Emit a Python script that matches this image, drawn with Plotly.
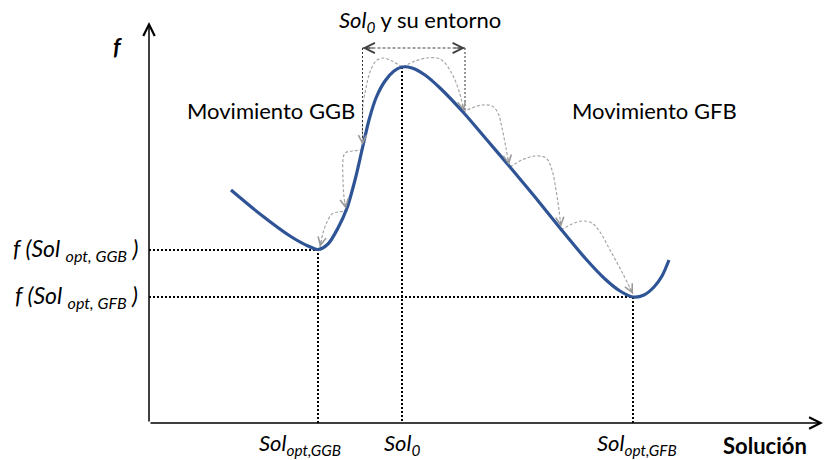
import plotly.graph_objects as go

# ---- data (x = solución, y = f) ----
sol = [82, 111, 141, 159, 169, 179, 189, 198, 206, 213, 220, 227, 236, 245, 253, 263,
       276, 291, 314, 338, 361, 386, 411, 436, 456, 471, 484, 495, 505, 513, 520]
f_val = [233, 209, 187, 177, 173.5, 179, 195, 215, 243, 273, 303, 325, 342, 352, 356, 355,
         348, 335, 311, 283, 256, 226, 195, 165, 144, 132, 126, 128, 136, 147, 163]

sol_ggb, f_ggb = 169, 173
sol_0, f_0 = 253, 356
sol_gfb, f_gfb = 484, 126

nb_left, nb_right, nb_top = 213.5, 316, 375
nb_left_bottom, nb_right_bottom = 278, 313

# neighbourhood moves (gray dashed arcs)
arcs = {
    "A": ([253, 243, 234, 227, 221, 217, 214, 213.5, 213.5], [356, 362, 365, 362, 351, 335, 318, 298, 278]),
    "B": ([254, 266, 278, 288, 295, 302, 308, 312, 315], [356, 362, 365, 365, 361, 351, 338, 325, 312]),
    "C": ([214, 203, 196, 194, 194, 195, 197], [273, 272, 270, 263, 243, 226, 214]),
    "D": ([199, 189, 183, 178, 174, 171], [212, 211, 209, 201, 190, 176]),
    "E": ([314, 323, 333, 343, 349, 353, 357, 360], [311, 315, 318, 317, 310, 295, 275, 258]),
    "F": ([361, 373, 386, 397, 403, 407, 410, 412], [256, 263, 267, 265, 253, 233, 213, 196]),
    "G": ([412, 423, 433, 443, 451, 461, 473, 484], [193, 199, 202, 200, 191, 173, 151, 129]),
}

FONT = "Lato"
BLUE = "#2F5496"
GRAY = "#A6A6A6"

fig = go.Figure()

# gray arcs
for k, (ax_, ay_) in arcs.items():
    fig.add_trace(go.Scatter(x=ax_, y=ay_, mode="lines",
                             line=dict(color=GRAY, width=1.2, dash="3px,2px", shape="spline", smoothing=1),
                             hoverinfo="skip", showlegend=False))

# black dotted reference lines
dot = dict(color="black", width=2, dash="2px,2px")
fig.add_trace(go.Scatter(x=[0, sol_ggb, sol_ggb], y=[f_ggb, f_ggb, 0], mode="lines", line=dot, showlegend=False))
fig.add_trace(go.Scatter(x=[0, sol_gfb, sol_gfb], y=[f_gfb, f_gfb, 0], mode="lines", line=dot, showlegend=False))
fig.add_trace(go.Scatter(x=[sol_0, sol_0], y=[f_0, 0], mode="lines", line=dot, showlegend=False))

# neighbourhood bracket
thin = dict(color="#333333", width=1, dash="2px,2px")
fig.add_trace(go.Scatter(x=[nb_left, nb_left], y=[nb_top, nb_left_bottom], mode="lines", line=thin, showlegend=False))
fig.add_trace(go.Scatter(x=[nb_right, nb_right], y=[nb_top, nb_right_bottom], mode="lines", line=thin, showlegend=False))
fig.add_trace(go.Scatter(x=[nb_left, nb_right], y=[nb_top, nb_top], mode="lines",
                         line=dict(color="#404040", width=1.2, dash="3px,2px"), showlegend=False))

# main curve
fig.add_trace(go.Scatter(x=sol, y=f_val, mode="lines",
                         line=dict(color=BLUE, width=3.2, shape="spline", smoothing=0.8),
                         hoverinfo="skip", showlegend=False))

ann = []
# axes with arrowheads
ann.append(dict(x=674, y=0, ax=0, ay=0, axref="x", ayref="y", xref="x", yref="y", text="",
                showarrow=True, arrowhead=5, arrowwidth=1.5, arrowsize=1.5, arrowcolor="black"))
ann.append(dict(x=0, y=401, ax=0, ay=0, axref="x", ayref="y", xref="x", yref="y", text="",
                showarrow=True, arrowhead=5, arrowwidth=1.5, arrowsize=1.5, arrowcolor="black"))
# bracket arrowheads
ann.append(dict(x=nb_left, y=nb_top, ax=12, ay=0, xref="x", yref="y", text="",
                showarrow=True, arrowhead=5, arrowwidth=1, arrowsize=2, arrowcolor="#404040"))
ann.append(dict(x=nb_right, y=nb_top, ax=-12, ay=0, xref="x", yref="y", text="",
                showarrow=True, arrowhead=5, arrowwidth=1, arrowsize=2, arrowcolor="#404040"))
# arc arrowheads
head_dirs = {"A": (0, -8), "B": (-2, -8), "C": (-1.5, -8), "D": (1.7, -8),
             "E": (-1.4, -8), "F": (-1, -8), "G": (-4, -8)}
for k, (ax_, ay_) in arcs.items():
    dx, dy = head_dirs[k]
    ann.append(dict(x=ax_[-1], y=ay_[-1], ax=dx, ay=dy, xref="x", yref="y", text="",
                    showarrow=True, arrowhead=5, arrowwidth=1, arrowsize=1.6, arrowcolor="#999999"))

def label(x, y, text, size=19, xanchor="center", color="black"):
    ann.append(dict(x=x, y=y, xref="x", yref="y", text=text, showarrow=False,
                    xanchor=xanchor, yanchor="middle",
                    font=dict(family=FONT, size=size, color=color)))

label(-32, 377, "<b><i>f</i></b>", size=23)
label(271, 402, "<i>Sol<sub>0</sub></i> y su entorno", size=22)
label(122, 313, "Movimiento GGB", size=22)
label(505, 313, "Movimiento GFB", size=22)
label(-9, 174, "<i>f (Sol <sub>opt, GGB</sub> )</i>", size=23, xanchor="right")
label(-9, 127, "<i>f (Sol <sub>opt, GFB</sub> )</i>", size=23, xanchor="right")
label(151, -21, "<i>Sol<sub>opt,GGB</sub></i>", size=22)
label(253, -21, "<i>Sol<sub>0</sub></i>", size=22)
label(488, -21, "<i>Sol<sub>opt,GFB</sub></i>", size=22)
label(616, -22, "<b>Solución</b>", size=22)

fig.update_layout(
    width=825, height=460, autosize=False,
    margin=dict(l=0, r=0, t=0, b=0),
    paper_bgcolor="white", plot_bgcolor="white",
    xaxis=dict(range=[-149, 676], visible=False, fixedrange=True),
    yaxis=dict(range=[-37, 423], visible=False, fixedrange=True),
    annotations=ann, showlegend=False,
)

fig.write_html("out.html", config={"displayModeBar": False},
               post_script="document.body.style.margin='0';document.body.style.overflow='hidden';")
